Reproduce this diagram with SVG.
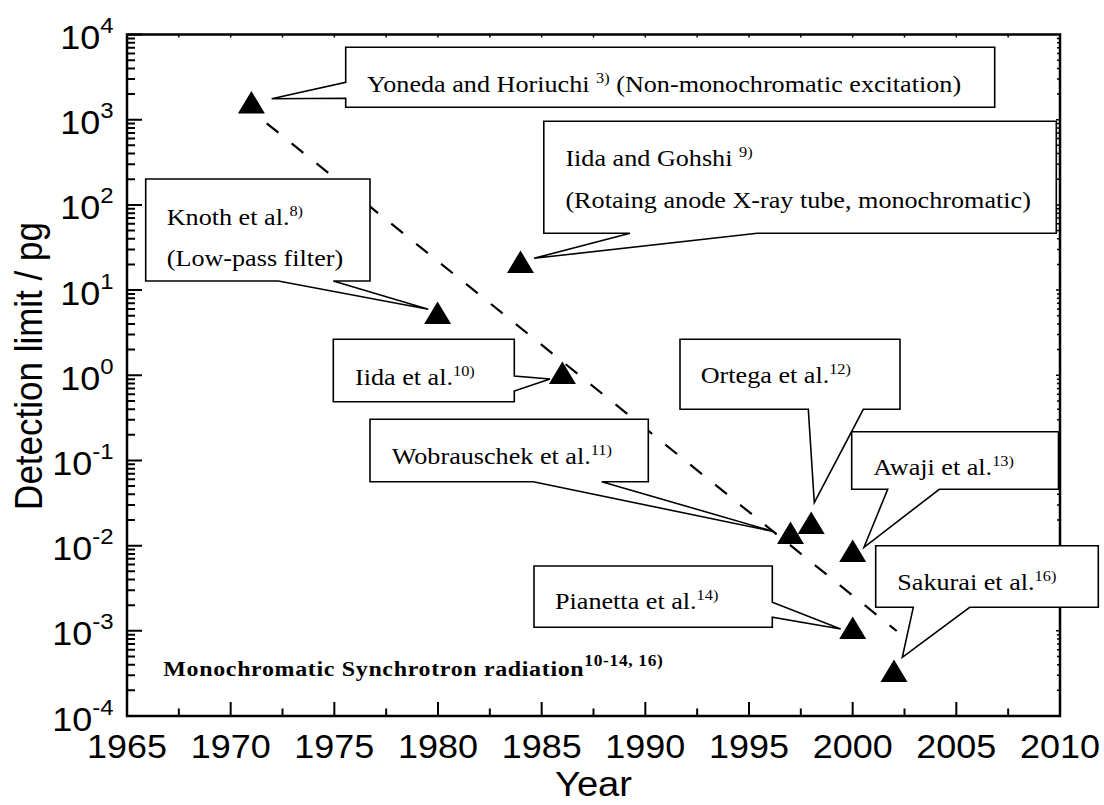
<svg xmlns="http://www.w3.org/2000/svg" xmlns:xlink="http://www.w3.org/1999/xlink" width="1104" height="805" viewBox="0 0 1104 805">
<defs>
<style>
.ax{stroke:#000;stroke-width:2.5;fill:none;stroke-linecap:square}
.tk{stroke:#000;stroke-width:2;fill:none}
.tks{stroke:#000;stroke-width:1.5;fill:none}
.call{fill:#fff;stroke:#000;stroke-width:1.6;stroke-linejoin:miter}
.trend{stroke:#000;stroke-width:2.2;fill:none;stroke-dasharray:15 17}
.nsup{font-size:22px}
.sup{font-size:15px}
.bsup{font-size:16px}
</style>
<path id="tri" d="M0,-14.5 L13.5,8 L-13.5,8 Z" fill="#000"/>
</defs>
<rect width="1104" height="805" fill="#fff"/>

<g id="axes">
<path class="ax" d="M127,34.5 H1060 V716 H127 Z"/>
<path class="tk" d="M127,34.5h15M127,119.69h15M127,204.88h15M127,290.06h15M127,375.25h15M127,460.44h15M127,545.63h15M127,630.81h15M127,716h15"/>
<path class="tk" d="M127,690.36h8M127,675.35h8M127,664.71h8M127,656.46h8M127,649.71h8M127,644.01h8M127,639.07h8M127,634.71h8
M127,605.17h8M127,590.16h8M127,579.52h8M127,571.27h8M127,564.52h8M127,558.82h8M127,553.88h8M127,549.52h8
M127,519.99h8M127,504.98h8M127,494.34h8M127,486.09h8M127,479.34h8M127,473.64h8M127,468.7h8M127,464.34h8
M127,434.8h8M127,419.79h8M127,409.15h8M127,400.9h8M127,394.15h8M127,388.45h8M127,383.51h8M127,379.15h8
M127,349.61h8M127,334.6h8M127,323.96h8M127,315.71h8M127,308.96h8M127,303.26h8M127,298.32h8M127,293.96h8
M127,264.42h8M127,249.41h8M127,238.77h8M127,230.52h8M127,223.77h8M127,218.07h8M127,213.13h8M127,208.77h8
M127,179.24h8M127,164.23h8M127,153.59h8M127,145.34h8M127,138.59h8M127,132.89h8M127,127.95h8M127,123.59h8
M127,94.05h8M127,79.04h8M127,68.4h8M127,60.15h8M127,53.4h8M127,47.7h8M127,42.76h8M127,38.4h8"/>
<path class="tks" d="M1060,119.69h-4M1060,204.88h-4M1060,290.06h-4M1060,375.25h-4M1060,460.44h-4M1060,545.63h-4M1060,630.81h-4
M1060,690.36h-3M1060,675.35h-3M1060,664.71h-3M1060,656.46h-3M1060,649.71h-3M1060,644.01h-3M1060,639.07h-3M1060,634.71h-3
M1060,605.17h-3M1060,590.16h-3M1060,579.52h-3M1060,571.27h-3M1060,564.52h-3M1060,558.82h-3M1060,553.88h-3M1060,549.52h-3
M1060,519.99h-3M1060,504.98h-3M1060,494.34h-3M1060,486.09h-3M1060,479.34h-3M1060,473.64h-3M1060,468.7h-3M1060,464.34h-3
M1060,434.8h-3M1060,419.79h-3M1060,409.15h-3M1060,400.9h-3M1060,394.15h-3M1060,388.45h-3M1060,383.51h-3M1060,379.15h-3
M1060,349.61h-3M1060,334.6h-3M1060,323.96h-3M1060,315.71h-3M1060,308.96h-3M1060,303.26h-3M1060,298.32h-3M1060,293.96h-3
M1060,264.42h-3M1060,249.41h-3M1060,238.77h-3M1060,230.52h-3M1060,223.77h-3M1060,218.07h-3M1060,213.13h-3M1060,208.77h-3
M1060,179.24h-3M1060,164.23h-3M1060,153.59h-3M1060,145.34h-3M1060,138.59h-3M1060,132.89h-3M1060,127.95h-3M1060,123.59h-3
M1060,94.05h-3M1060,79.04h-3M1060,68.4h-3M1060,60.15h-3M1060,53.4h-3M1060,47.7h-3M1060,42.76h-3M1060,38.4h-3"/>
<path class="tk" d="M230.67,716v-14M334.33,716v-14M438,716v-14M541.67,716v-14M645.33,716v-14M749,716v-14M852.67,716v-14M956.33,716v-14"/>
<path class="tk" d="M178.83,716v-7.5M282.5,716v-7.5M386.17,716v-7.5M489.83,716v-7.5M593.5,716v-7.5M697.17,716v-7.5M800.83,716v-7.5M904.5,716v-7.5M1008.17,716v-7.5"/>
<path class="tks" d="M178.83,34.5v3M230.67,34.5v3M282.5,34.5v3M334.33,34.5v3M386.17,34.5v3M438,34.5v3M489.83,34.5v3M541.67,34.5v3M593.5,34.5v3M645.33,34.5v3M697.17,34.5v3M749,34.5v3M800.83,34.5v3M852.67,34.5v3M904.5,34.5v3M956.33,34.5v3M1008.17,34.5v3"/>
</g>

<g id="y-labels" font-family="Liberation Sans, Arimo, Arial, Helvetica, Roboto, sans-serif" font-size="33" text-anchor="end" fill="#000">
<text transform="translate(113.5,49) scale(1.09,1)">10<tspan class="nsup" dy="-16">4</tspan></text>
<text transform="translate(113.5,134.2) scale(1.09,1)">10<tspan class="nsup" dy="-16">3</tspan></text>
<text transform="translate(113.5,219.4) scale(1.09,1)">10<tspan class="nsup" dy="-16">2</tspan></text>
<text transform="translate(113.5,304.6) scale(1.09,1)">10<tspan class="nsup" dy="-16">1</tspan></text>
<text transform="translate(113.5,389.8) scale(1.09,1)">10<tspan class="nsup" dy="-16">0</tspan></text>
<text transform="translate(113.5,474.9) scale(1.09,1)">10<tspan class="nsup" dy="-16">-1</tspan></text>
<text transform="translate(113.5,560.1) scale(1.09,1)">10<tspan class="nsup" dy="-16">-2</tspan></text>
<text transform="translate(113.5,645.3) scale(1.09,1)">10<tspan class="nsup" dy="-16">-3</tspan></text>
<text transform="translate(113.5,730.5) scale(1.09,1)">10<tspan class="nsup" dy="-16">-4</tspan></text>
</g>

<g id="x-labels" font-family="Liberation Sans, Arimo, Arial, Helvetica, Roboto, sans-serif" font-size="33" text-anchor="middle" fill="#000">
<text transform="translate(127,758) scale(1.09,1)">1965</text>
<text transform="translate(230.67,758) scale(1.09,1)">1970</text>
<text transform="translate(334.33,758) scale(1.09,1)">1975</text>
<text transform="translate(438,758) scale(1.09,1)">1980</text>
<text transform="translate(541.67,758) scale(1.09,1)">1985</text>
<text transform="translate(645.33,758) scale(1.09,1)">1990</text>
<text transform="translate(749,758) scale(1.09,1)">1995</text>
<text transform="translate(852.67,758) scale(1.09,1)">2000</text>
<text transform="translate(956.33,758) scale(1.09,1)">2005</text>
<text transform="translate(1060,758) scale(1.09,1)">2010</text>
</g>

<g id="axis-titles" font-family="Liberation Sans, Arimo, Arial, Helvetica, Roboto, sans-serif" font-size="35" text-anchor="middle" fill="#000">
<text transform="translate(42,366) scale(1.09,1) rotate(-90)">Detection limit / pg</text>
<text transform="translate(593.5,796) scale(1.09,1)">Year</text>
</g>

<g id="connectors">
<path class="trend" d="M266.7,123.3 L896.7,631"/>
</g>

<g id="callouts" font-family="Liberation Serif, Tinos, Times New Roman, Times, serif" font-size="24" fill="#000">
<g id="callout-yoneda">
<path class="call" d="M345.7,47.3 H994.7 V107.3 H345.7 V98.3 L271.7,98.7 L345.7,82.3 Z"/>
<text transform="translate(367,91.7) scale(1.09,1)">Yoneda and Horiuchi <tspan class="sup" dy="-9">3)</tspan><tspan dy="9"> (Non-monochromatic excitation)</tspan></text>
</g>

<g id="callout-iida-gohshi">
<path class="call" d="M543.8,121.3 H1056.3 V233.3 H757.3 L534,258.3 L630,233.3 H543.8 Z"/>
<text transform="translate(565.4,165.5) scale(1.09,1)">Iida and Gohshi <tspan class="sup" dy="-9">9)</tspan></text>
<text transform="translate(565.4,207.5) scale(1.09,1)">(Rotaing anode X-ray tube, monochromatic)</text>
</g>

<g id="callout-knoth">
<path class="call" d="M145.7,179 H370 V281 H333.3 L428.3,309.3 L278.3,281 H145.7 Z"/>
<text transform="translate(166.7,225) scale(1.09,1)">Knoth et al.<tspan class="sup" dy="-9">8)</tspan></text>
<text transform="translate(166.7,266) scale(1.09,1)">(Low-pass filter)</text>
</g>

<g id="callout-iida">
<path class="call" d="M333.3,339.3 H514.3 V376 L550,379 L514.3,391 V401.7 H333.3 Z"/>
<text transform="translate(355,385) scale(1.09,1)">Iida et al.<tspan class="sup" dy="-9">10)</tspan></text>
</g>

<g id="callout-wobrauschek">
<path class="call" d="M370,419.3 H648.3 V481.7 H601.7 L773.5,531.5 L533.3,481.7 H370 Z"/>
<text transform="translate(391.7,464.3) scale(1.09,1)">Wobrauschek et al.<tspan class="sup" dy="-9">11)</tspan></text>
</g>

<g id="callout-ortega">
<path class="call" d="M680,339.3 H900 V409.3 H863.3 L814.3,502.7 L808.3,409.3 H680 Z"/>
<text transform="translate(700.7,383.3) scale(1.09,1)">Ortega et al.<tspan class="sup" dy="-9">12)</tspan></text>
</g>

<g id="callout-awaji">
<path class="call" d="M851.7,431.7 H1058.5 V489.3 H939.3 L864,547.3 L887.7,489.3 H851.7 Z"/>
<text transform="translate(873.3,475) scale(1.09,1)">Awaji et al.<tspan class="sup" dy="-9">13)</tspan></text>
</g>

<g id="callout-pianetta">
<path class="call" d="M534,566 H772.3 V602.3 L840.7,629 L772.3,617.3 V627.3 H534 Z"/>
<text transform="translate(555,609) scale(1.09,1)">Pianetta et al.<tspan class="sup" dy="-9">14)</tspan></text>
</g>

<g id="callout-sakurai">
<path class="call" d="M875.7,545.7 H1098.3 V607.3 H969.7 L902.3,657.3 L913.3,607.3 H875.7 Z"/>
<text transform="translate(897.3,590) scale(1.09,1)">Sakurai et al.<tspan class="sup" dy="-9">16)</tspan></text>
</g>
</g>

<g id="note-synchrotron" font-family="Liberation Serif, Tinos, Times New Roman, Times, serif" font-size="22" font-weight="bold" letter-spacing="0.6" fill="#000">
<text transform="translate(163.3,675.7) scale(1.09,1)">Monochromatic Synchrotron radiation<tspan class="bsup" dy="-10">10-14, 16)</tspan></text>
</g>

<g id="points">
<use xlink:href="#tri" x="251.4" y="105.5"/>
<use xlink:href="#tri" x="437.6" y="316"/>
<use xlink:href="#tri" x="520.5" y="265"/>
<use xlink:href="#tri" x="562.4" y="376"/>
<use xlink:href="#tri" x="790.5" y="536"/>
<use xlink:href="#tri" x="811.2" y="526"/>
<use xlink:href="#tri" x="852.7" y="554"/>
<use xlink:href="#tri" x="852.7" y="631"/>
<use xlink:href="#tri" x="894" y="674"/>
</g>
</svg>
